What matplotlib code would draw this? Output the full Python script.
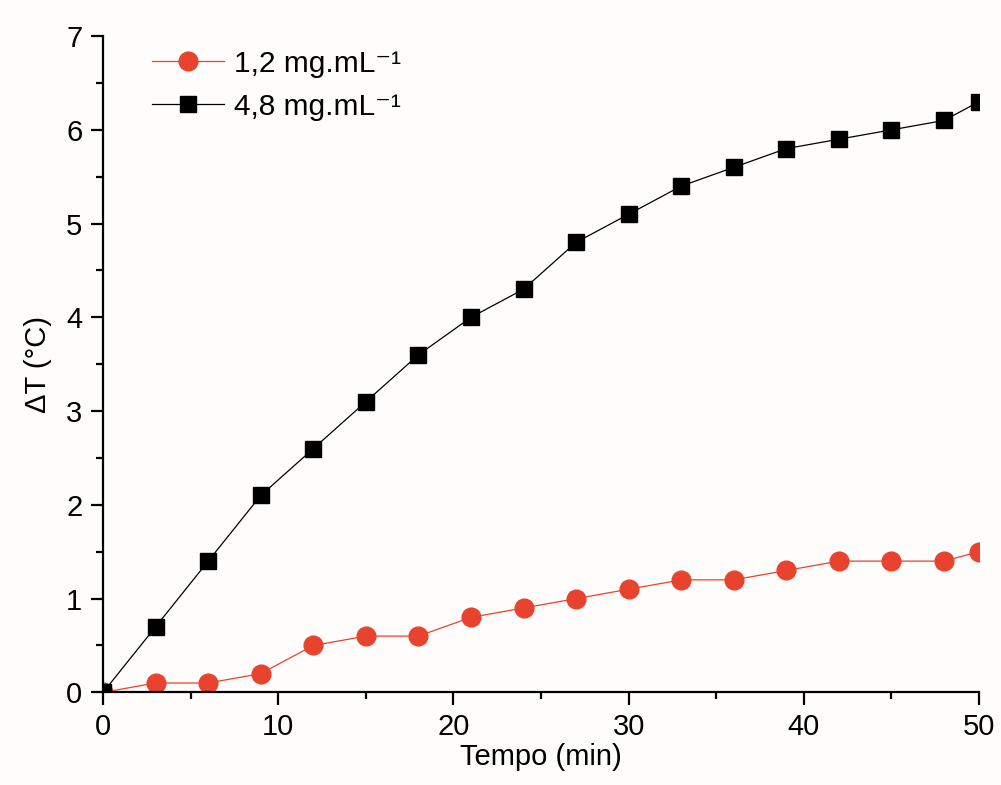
import numpy as np
import matplotlib
matplotlib.use("Agg")
import matplotlib.pyplot as plt
from matplotlib.ticker import MultipleLocator

plt.rcParams["font.family"] = ["Liberation Sans", "DejaVu Sans"]

tempo = [0, 3, 6, 9, 12, 15, 18, 21, 24, 27, 30, 33, 36, 39, 42, 45, 48, 50]
dt_12 = [0, 0.1, 0.1, 0.2, 0.5, 0.6, 0.6, 0.8, 0.9, 1.0, 1.1, 1.2, 1.2, 1.3, 1.4, 1.4, 1.4, 1.5]
dt_48 = [0, 0.7, 1.4, 2.1, 2.6, 3.1, 3.6, 4.0, 4.3, 4.8, 5.1, 5.4, 5.6, 5.8, 5.9, 6.0, 6.1, 6.3]

fig = plt.figure(figsize=(10.01, 7.85), dpi=100)
fig.patch.set_facecolor("#fefdfb")
ax = fig.add_axes([0.103, 0.118, 0.875, 0.836])
ax.set_facecolor("#fefdfb")

ax.plot(tempo, dt_12, color="#e8432e", lw=0.9, marker="o", ms=13.5,
        label="1,2 mg.mL⁻¹")
ax.plot(tempo, dt_48, color="black", lw=0.9, marker="s", ms=11.5,
        label="4,8 mg.mL⁻¹")

ax.set_xlim(0, 50)
ax.set_ylim(0, 7)
ax.xaxis.set_major_locator(MultipleLocator(10))
ax.xaxis.set_minor_locator(MultipleLocator(5))
ax.yaxis.set_major_locator(MultipleLocator(1))
ax.yaxis.set_minor_locator(MultipleLocator(0.5))

for s in ["top", "right"]:
    ax.spines[s].set_visible(False)
for s in ["left", "bottom"]:
    ax.spines[s].set_linewidth(1.6)

ax.tick_params(which="major", direction="out", length=9, width=1.6, labelsize=21, pad=6)
ax.tick_params(which="minor", direction="out", length=5, width=1.6)

ax.set_xlabel("Tempo (min)", fontsize=21, labelpad=1)
ax.set_ylabel("ΔT (°C)", fontsize=21, labelpad=10)

ax.legend(loc="upper left", frameon=False, fontsize=21.5, handlelength=2.4,
          bbox_to_anchor=(0.025, 1.02), labelspacing=0.5, handletextpad=0.35)

fig.savefig("out.png", dpi=100, facecolor=fig.get_facecolor())
